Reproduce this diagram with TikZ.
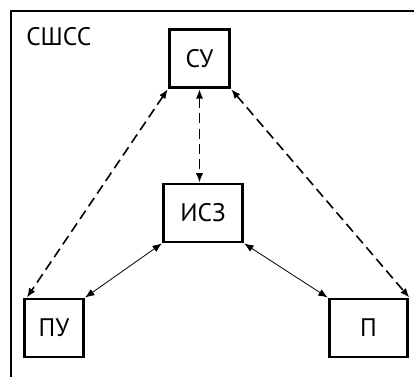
\documentclass[tikz,border=0pt]{standalone}
\usepackage{fontspec}
\setmainfont{PT Sans}
\usepackage{tikz}
\usetikzlibrary{arrows.meta,positioning,calc}

\tikzset{
	block/.style={draw, line width=2.2pt, inner sep=0pt, font=\fontsize{19}{22}\selectfont},
	dlink/.style={{Latex[length=7pt,width=5.5pt]}-{Latex[length=7pt,width=5.5pt]}, line width=1.2pt, dash pattern=on 7.5pt off 4pt},
	slink/.style={{Latex[length=7pt,width=5.5pt]}-{Latex[length=7pt,width=5.5pt]}, line width=0.6pt}
}

\begin{document}
\begin{tikzpicture}[x=0.75pt, y=-0.75pt]
		\clip (0,0) rectangle (414,376);
		\fill[white] (0,0) rectangle (414,376);
		\draw[line width=2pt] (11,11) rectangle (440,400);
		\node[anchor=north west, font=\fontsize{19}{22}\selectfont, inner sep=0pt] (title) at (26,27) {СШСС};

		\node[block, minimum width=45.5pt, minimum height=44pt] (su) at (199.5,58.5) {СУ};
		\node[block, minimum width=59.5pt, minimum height=43.5pt] (isz) at (203,213) {ИСЗ};
		\node[block, minimum width=44.5pt, minimum height=43.5pt] (pu) at (54,328) {ПУ};
		\node[block, minimum width=59pt, minimum height=43.5pt] (p) at (368.5,328) {П};

		\draw[dlink] (su.south west) -- ($(pu.north west)+(4,0)$);
		\draw[dlink] (su.south) -- (isz.north -| su.south);
		\draw[dlink] (su.south east) -- (p.north east);
		\draw[slink] (isz.south west) -- (pu.north east);
		\draw[slink] (isz.south east) -- (p.north west);
	\end{tikzpicture}
\end{document}
